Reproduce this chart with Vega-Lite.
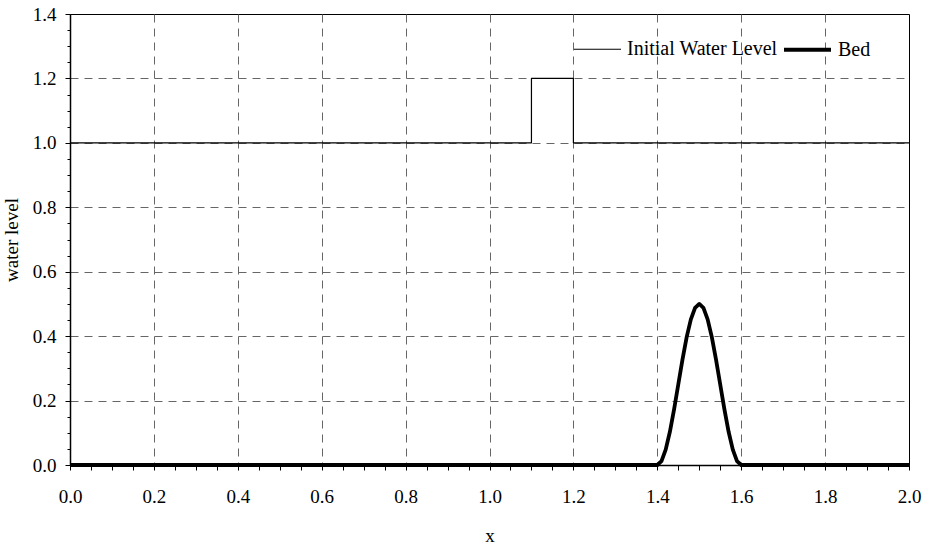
{
  "$schema": "https://vega.github.io/schema/vega-lite/v6.json",
  "width": 839,
  "height": 451,
  "autosize": {"type": "none"},
  "padding": {"left": 70, "top": 14, "right": 24, "bottom": 80},
  "background": "white",
  "config": {
    "font": "Liberation Serif, Times New Roman, serif",
    "view": {"stroke": "black", "strokeWidth": 1},
    "axis": {
      "domainColor": "black",
      "domainWidth": 1.5,
      "tickColor": "black",
      "tickWidth": 1,
      "labelFont": "Liberation Serif, Times New Roman, serif",
      "labelFontSize": 19,
      "labelColor": "black",
      "titleFont": "Liberation Serif, Times New Roman, serif",
      "titleFontSize": 19,
      "titleFontWeight": "normal",
      "titleColor": "black",
      "gridColor": "#666666",
      "gridDash": [8, 6],
      "gridWidth": 1,
      "labelOverlap": false,
      "labelFlush": false
    },
    "legend": {
      "labelFont": "Liberation Serif, Times New Roman, serif",
      "labelFontSize": 20,
      "labelColor": "black"
    }
  },
  "data": {
    "values": [
      {"series": "Initial Water Level", "idx": 0, "x": 0.0, "y": 1.0},
      {"series": "Initial Water Level", "idx": 1, "x": 1.1, "y": 1.0},
      {"series": "Initial Water Level", "idx": 2, "x": 1.1, "y": 1.2},
      {"series": "Initial Water Level", "idx": 3, "x": 1.2, "y": 1.2},
      {"series": "Initial Water Level", "idx": 4, "x": 1.2, "y": 1.0},
      {"series": "Initial Water Level", "idx": 5, "x": 2.0, "y": 1.0},
      {"series": "Bed", "idx": 0, "x": 0.0, "y": 0.0},
      {"series": "Bed", "idx": 1, "x": 1.40, "y": 0.0},
      {"series": "Bed", "idx": 2, "x": 1.41, "y": 0.0122},
      {"series": "Bed", "idx": 3, "x": 1.42, "y": 0.0478},
      {"series": "Bed", "idx": 4, "x": 1.43, "y": 0.1031},
      {"series": "Bed", "idx": 5, "x": 1.44, "y": 0.1728},
      {"series": "Bed", "idx": 6, "x": 1.45, "y": 0.25},
      {"series": "Bed", "idx": 7, "x": 1.46, "y": 0.3272},
      {"series": "Bed", "idx": 8, "x": 1.47, "y": 0.3969},
      {"series": "Bed", "idx": 9, "x": 1.48, "y": 0.4522},
      {"series": "Bed", "idx": 10, "x": 1.49, "y": 0.4878},
      {"series": "Bed", "idx": 11, "x": 1.50, "y": 0.5},
      {"series": "Bed", "idx": 12, "x": 1.51, "y": 0.4878},
      {"series": "Bed", "idx": 13, "x": 1.52, "y": 0.4522},
      {"series": "Bed", "idx": 14, "x": 1.53, "y": 0.3969},
      {"series": "Bed", "idx": 15, "x": 1.54, "y": 0.3272},
      {"series": "Bed", "idx": 16, "x": 1.55, "y": 0.25},
      {"series": "Bed", "idx": 17, "x": 1.56, "y": 0.1728},
      {"series": "Bed", "idx": 18, "x": 1.57, "y": 0.1031},
      {"series": "Bed", "idx": 19, "x": 1.58, "y": 0.0478},
      {"series": "Bed", "idx": 20, "x": 1.59, "y": 0.0122},
      {"series": "Bed", "idx": 21, "x": 1.60, "y": 0.0},
      {"series": "Bed", "idx": 22, "x": 2.0, "y": 0.0}
    ]
  },
  "mark": {"type": "line", "color": "black", "strokeJoin": "round"},
  "encoding": {
    "x": {
      "field": "x",
      "type": "quantitative",
      "scale": {"domain": [0, 2], "nice": false, "zero": false},
      "axis": {
        "title": "x",
        "values": [0, 0.05, 0.1, 0.15, 0.2, 0.25, 0.3, 0.35, 0.4, 0.45, 0.5, 0.55, 0.6, 0.65, 0.7, 0.75, 0.8, 0.85, 0.9, 0.95, 1.0, 1.05, 1.1, 1.15, 1.2, 1.25, 1.3, 1.35, 1.4, 1.45, 1.5, 1.55, 1.6, 1.65, 1.7, 1.75, 1.8, 1.85, 1.9, 1.95, 2.0],
        "labelExpr": "round(datum.value*20)%4==0 ? format(datum.value,'.1f') : ''",
        "tickSize": 5,
        "labelPadding": 17,
        "titlePadding": 20,
        "grid": true,
        "gridOpacity": {"condition": {"test": "round(datum.value*20)%4!=0 || datum.value <= 0.01 || datum.value >= 1.99", "value": 0}, "value": 1}
      }
    },
    "y": {
      "field": "y",
      "type": "quantitative",
      "scale": {"domain": [0, 1.4], "nice": false, "zero": false},
      "axis": {
        "title": "water level",
        "values": [0, 0.05, 0.1, 0.15, 0.2, 0.25, 0.3, 0.35, 0.4, 0.45, 0.5, 0.55, 0.6, 0.65, 0.7, 0.75, 0.8, 0.85, 0.9, 0.95, 1.0, 1.05, 1.1, 1.15, 1.2, 1.25, 1.3, 1.35, 1.4],
        "labelExpr": "round(datum.value*20)%4==0 ? format(datum.value,'.1f') : ''",
        "tickSize": {"condition": {"test": "round(datum.value*20)%4!=0", "value": 3}, "value": 5},
        "labelPadding": 9,
        "titlePadding": 11,
        "grid": true,
        "gridOpacity": {"condition": {"test": "round(datum.value*20)%4!=0 || datum.value <= 0.01 || datum.value >= 1.39", "value": 0}, "value": 1}
      }
    },
    "strokeWidth": {
      "field": "series",
      "type": "ordinal",
      "scale": {"domain": ["Initial Water Level", "Bed"], "range": [1.2, 3.8]},
      "legend": {
        "title": null,
        "orient": "none",
        "direction": "horizontal",
        "legendX": 503,
        "legendY": 10,
        "symbolType": "stroke",
        "symbolSize": 2209,
        "symbolStrokeColor": "black",
        "labelOffset": 5,
        "columnPadding": -2
      }
    },
    "order": {"field": "idx", "type": "quantitative"}
  }
}
